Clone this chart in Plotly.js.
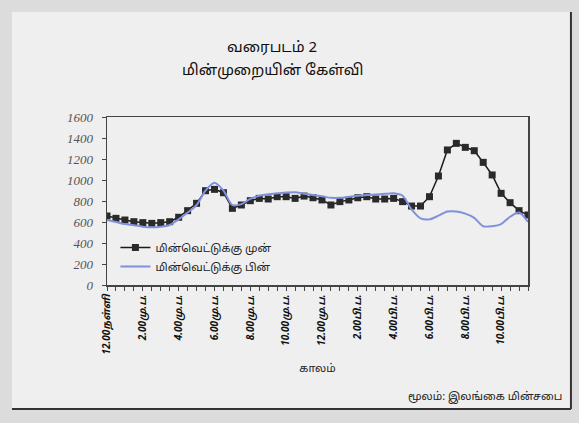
<!DOCTYPE html>
<html>
<head>
<meta charset="utf-8">
<script src="https://cdn.plot.ly/plotly-3.0.1.min.js"></script>
<style>html,body{margin:0;padding:0;background:#d9d9d9;}#chart{width:579px;height:423px;}</style>
</head>
<body>
<div id="chart"></div>
<script>
// Half-hourly time slots (categories)
var times = ["00:00","00:30","01:00","01:30","02:00","02:30","03:00","03:30",
  "04:00","04:30","05:00","05:30","06:00","06:30","07:00","07:30",
  "08:00","08:30","09:00","09:30","10:00","10:30","11:00","11:30",
  "12:00","12:30","13:00","13:30","14:00","14:30","15:00","15:30",
  "16:00","16:30","17:00","17:30","18:00","18:30","19:00","19:30",
  "20:00","20:30","21:00","21:30","22:00","22:30","23:00","23:30"];

// Demand before power cuts (MW)
var beforeCut = [657,635,619,603,594,587,594,603,645,708,778,898,
  911,879,730,762,803,825,819,841,841,825,847,831,
  810,762,794,810,831,841,819,819,825,794,752,752,
  841,1038,1286,1349,1311,1279,1168,1048,873,784,708,667];

// Demand after power cuts (MW)
var afterCut = [619,600,580,570,555,550,555,571,625,690,762,900,
  975,900,760,770,820,850,865,873,880,883,870,857,
  845,830,830,840,850,857,862,868,873,850,720,635,
  625,660,700,700,680,640,560,560,580,650,690,600];

var tickTimes = ["00:00","02:00","04:00","06:00","08:00","10:00","12:00","14:00","16:00","18:00","20:00","22:00"];
var tickLabels = ["12.00நள்ளி","2.00மு.ப.","4.00மு.ப.","6.00மு.ப.","8.00மு.ப.","10.00மு.ப.","12.00மு.ப.","2.00பி.ப.","4.00பி.ப.","6.00பி.ப.","8.00பி.ப.","10.00பி.ப."];
var yTicks = [0,200,400,600,800,1000,1200,1400,1600];

var seriesNames = ["மின்வெட்டுக்கு முன்","மின்வெட்டுக்கு பின்"];

var tamilFont = "Noto Sans, Noto Sans Tamil, DejaVu Sans, sans-serif";

var traces = [
  {x: times, y: beforeCut, name: seriesNames[0], type: "scatter", mode: "lines+markers",
   line: {color: "#1a1a1a", width: 1.5},
   marker: {symbol: "square", size: 7, color: "#2a2a2a"}},
  {x: times, y: afterCut, name: seriesNames[1], type: "scatter", mode: "lines",
   line: {color: "#8090dc", width: 2, shape: "spline", smoothing: 0.8}}
];

var layout = {
  width: 579, height: 423,
  margin: {l: 107, r: 51, t: 117, b: 138},
  paper_bgcolor: "#dcdcdc",
  plot_bgcolor: "#ffffff",
  showlegend: true,
  legend: {x: 0.02, y: 0.31, xanchor: "left", yanchor: "top", bgcolor: "rgba(0,0,0,0)",
    font: {family: tamilFont, size: 11, color: "#222"}, tracegroupgap: 0, itemwidth: 30},
  xaxis: {
    type: "category",
    range: [0, 47],
    tickmode: "array", tickvals: tickTimes, ticktext: tickLabels,
    tickangle: -90,
    tickfont: {family: tamilFont, size: 10, color: "#111", style: "italic", weight: "bold"},
    ticks: "outside", ticklen: 4, tickcolor: "#444",
    minor: {ticks: "outside", ticklen: 4, tickcolor: "#444", tickmode: "array", tickvals: times},
    showline: true, linecolor: "#444", linewidth: 1.5, mirror: true,
    showgrid: false, zeroline: false,
    title: {text: "காலம்", font: {family: tamilFont, size: 11, color: "#222"}, standoff: 10}
  },
  yaxis: {
    range: [0, 1600],
    tickmode: "array", tickvals: yTicks,
    tickfont: {family: "Liberation Serif, serif", size: 13, color: "#555", style: "italic"},
    ticks: "outside", ticklen: 4, tickcolor: "#444", ticklabelstandoff: 6,
    showline: true, linecolor: "#444", linewidth: 1.5, mirror: true,
    showgrid: false, zeroline: false
  },
  shapes: [
    {type: "rect", xref: "paper", yref: "paper", x0: -0.2257, x1: 1.102, y0: -0.738, y1: 1.625,
     fillcolor: "#efefef", line: {width: 0}, layer: "below"},
    {type: "line", xref: "paper", yref: "paper", x0: 1.102, x1: 1.102, y0: -0.738, y1: 1.625,
     line: {color: "#333", width: 2}},
    {type: "line", xref: "paper", yref: "paper", x0: -0.2257, x1: 1.102, y0: -0.738, y1: -0.738,
     line: {color: "#333", width: 2}}
  ],
  annotations: [
    {text: "வரைபடம் 2", xref: "paper", yref: "paper", x: 0.392, y: 1.423, showarrow: false,
     xanchor: "center", yanchor: "middle", font: {family: tamilFont, size: 15, color: "#111"}},
    {text: "மின்முறையின் கேள்வி", xref: "paper", yref: "paper", x: 0.392, y: 1.283, showarrow: false,
     xanchor: "center", yanchor: "middle", font: {family: tamilFont, size: 15, color: "#111"}},
    {text: "மூலம்: இலங்கை மின்சபை", xref: "paper", yref: "paper", x: 1.085, y: -0.661, showarrow: false,
     xanchor: "right", yanchor: "middle", font: {family: tamilFont, size: 11, color: "#222"}}
  ]
};

Plotly.newPlot("chart", traces, layout, {displayModeBar: false, staticPlot: true});
</script>
</body>
</html>
